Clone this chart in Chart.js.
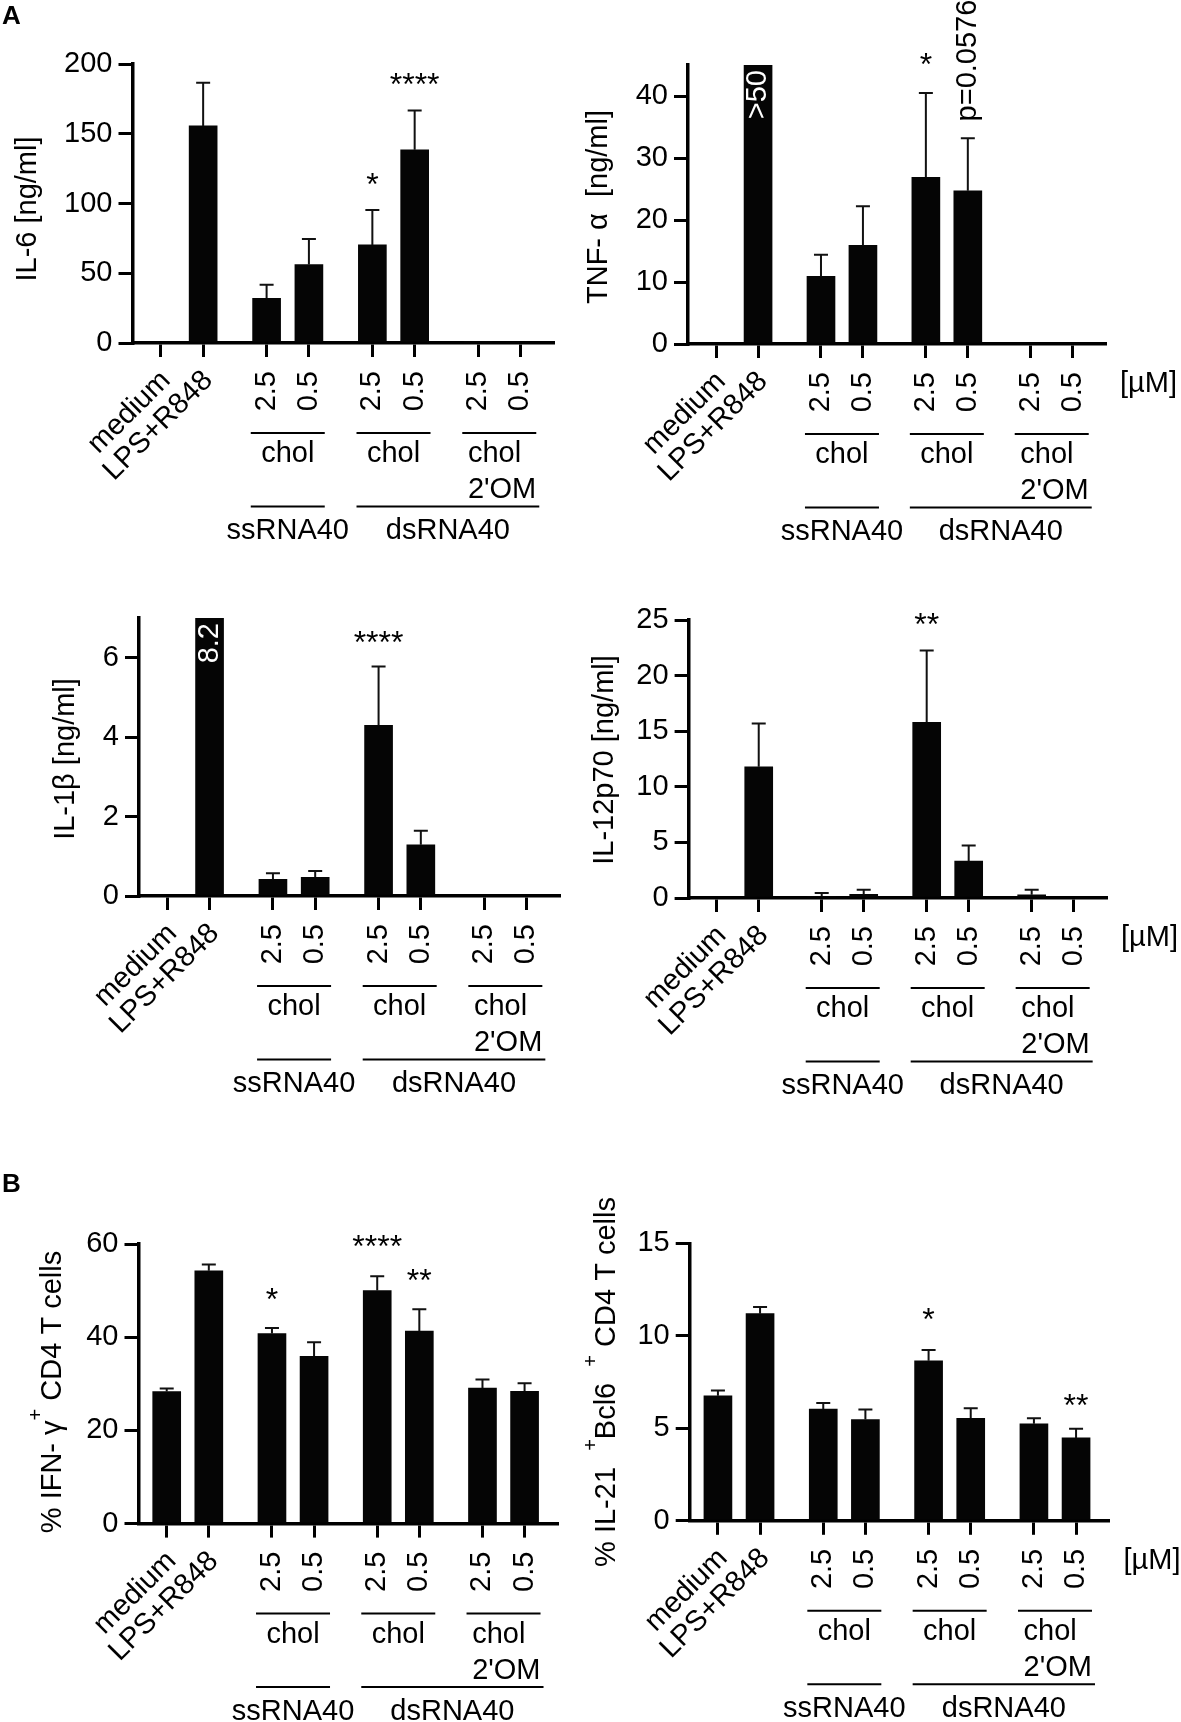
<!DOCTYPE html>
<html>
<head>
<meta charset="utf-8">
<script src="https://cdn.jsdelivr.net/npm/chart.js@4.4.1/dist/chart.umd.min.js"></script>
<style>
html, body { margin: 0; padding: 0; background: #fff; }
#page { position: relative; width: 1181px; height: 1722px; overflow: hidden; background: #fff; }
canvas { position: absolute; }
</style>
</head>
<body>
<div id="page">
  <canvas id="c1" width="590" height="560" style="left:0;top:0"></canvas>
  <canvas id="c2" width="606" height="560" style="left:575px;top:0"></canvas>
  <canvas id="c3" width="590" height="560" style="left:0;top:560px"></canvas>
  <canvas id="c4" width="606" height="560" style="left:575px;top:560px"></canvas>
  <canvas id="c5" width="590" height="560" style="left:0;top:1162px"></canvas>
  <canvas id="c6" width="606" height="560" style="left:575px;top:1162px"></canvas>
</div>
<script>
// categories along the x axis (same in every panel)
const categories = ['medium', 'LPS+R848', '2.5', '0.5', '2.5', '0.5', '2.5', '0.5'];
const positions = [0, 1, 2.5, 3.5, 5, 6, 7.5, 8.5];
const pairs = [[2, 3], [4, 5], [6, 7]];
const pairLabels = ['chol', 'chol', 'chol'];
const pairNotes = ['', '', "2'OM"];
const groupLabels = ['ssRNA40', 'dsRNA40'];

// A: cytokines [ng/ml], mean + SEM
const il6 = [0, 155.6, 32, 56.2, 70.3, 138.5, 0.8, 0];
const il6Err = [0, 31, 9.8, 18.4, 25.1, 28.2, 0, 0];
const il6Sig = ['', '', '', '', '*', '****', '', ''];
const il6Ticks = [0, 50, 100, 150, 200];

const tnf = [0, 50, 10.9, 15.9, 26.9, 24.7, 0, 0];
const tnfErr = [0, 0, 3.5, 6.3, 13.6, 8.5, 0, 0];
const tnfSig = ['', '', '', '', '*', '', '', ''];
const tnfTicks = [0, 10, 20, 30, 40];

const il1b = [0, 8.2, 0.42, 0.47, 4.3, 1.29, 0, 0];
const il1bErr = [0, 0, 0.15, 0.16, 1.48, 0.35, 0, 0];
const il1bSig = ['', '', '', '', '****', '', '', ''];
const il1bTicks = [0, 2, 4, 6];

const il12 = [0, 11.8, 0.16, 0.32, 15.8, 3.33, 0.29, 0];
const il12Err = [0, 3.9, 0.29, 0.42, 6.45, 1.38, 0.45, 0];
const il12Sig = ['', '', '', '', '**', '', '', ''];
const il12Ticks = [0, 5, 10, 15, 20, 25];

// B: % positive CD4 T cells
const ifng = [28.35, 54.25, 40.8, 35.9, 50.0, 41.3, 29.1, 28.4];
const ifngErr = [0.65, 1.35, 1.2, 3.0, 3.1, 4.7, 1.8, 1.7];
const ifngSig = ['', '', '*', '', '****', '**', '', ''];
const ifngTicks = [0, 20, 40, 60];

const il21 = [6.76, 11.2, 6.04, 5.48, 8.65, 5.54, 5.25, 4.48];
const il21Err = [0.29, 0.36, 0.33, 0.54, 0.58, 0.54, 0.29, 0.5];
const il21Sig = ['', '', '', '', '*', '', '', '**'];
const il21Ticks = [0, 5, 10, 15];

const FONT = '"Liberation Sans", Arial, Helvetica, sans-serif';
const FS = 29;
const font = (sz, w) => (w ? w + ' ' : '') + sz + 'px ' + FONT;

const panels = [
  { id: 'c1', values: il6, err: il6Err, sig: il6Sig, sigAt: { 4: 119, 5: 191 }, ticks: il6Ticks, max: 200,
    area: { l: 132.5, r: 553, t: 64, b: 343 }, title: [['IL-6 [ng/ml]']], titleAt: [28, 209], letter: 'A' },
  { id: 'c2', values: tnf, err: tnfErr, sig: tnfSig, sigAt: { 4: 46.3 }, ticks: tnfTicks, max: 45,
    area: { l: 113, r: 530, t: 65, b: 344 }, title: [['TNF- \u03b1  [ng/ml]']], titleAt: [24, 207], unit: true,
    inside: { i: 1, text: '>50' }, note: { i: 5, text: 'p=0.0576', at: 35.9 } },
  { id: 'c3', values: il1b, err: il1bErr, sig: il1bSig, sigAt: { 4: 6.57 }, ticks: il1bTicks, max: 7,
    area: { l: 139, r: 559, t: 58, b: 336 }, title: [['IL-1\u03b2 [ng/ml]']], titleAt: [66, 199],
    inside: { i: 1, text: '8.2' } },
  { id: 'c4', values: il12, err: il12Err, sig: il12Sig, sigAt: { 4: 25.27 }, ticks: il12Ticks, max: 25,
    area: { l: 113.6, r: 531, t: 60, b: 338 }, title: [['IL-12p70 [ng/ml]']], titleAt: [30, 200], unit: true },
  { id: 'c5', values: ifng, err: ifngErr, sig: ifngSig, sigAt: { 2: 49.6, 4: 61.1, 5: 53.7 }, ticks: ifngTicks, max: 60,
    area: { l: 138.5, r: 557, t: 82, b: 361.6 }, title: [['% IFN- \u03b3'], ['+', 1], [' CD4 T cells']],
    titleAt: [52.7, 230], letter: 'B' },
  { id: 'c6', values: il21, err: il21Err, sig: il21Sig, sigAt: { 4: 11.29, 7: 6.66 }, ticks: il21Ticks, max: 15,
    area: { l: 114.7, r: 533.5, t: 81.4, b: 358.8 }, title: [['% IL-21  '], ['+', 1], ['Bcl6  '], ['+', 1], [' CD4 T cells']],
    titleAt: [32, 220], unit: true }
];

function rotText(ctx, text, x, y, ang, align, base) {
  ctx.save();
  ctx.translate(x, y);
  ctx.rotate(ang);
  ctx.textAlign = align;
  ctx.textBaseline = base;
  ctx.fillText(text, 0, 0);
  ctx.restore();
}

function hline(ctx, x0, x1, y) {
  ctx.beginPath();
  ctx.moveTo(x0, y);
  ctx.lineTo(x1, y);
  ctx.stroke();
}

// rotated axis title with superscripts
function richTitle(ctx, parts, cx, cy) {
  ctx.save();
  ctx.translate(cx, cy);
  ctx.rotate(-Math.PI / 2);
  ctx.textBaseline = 'middle';
  ctx.textAlign = 'left';
  let total = 0;
  parts.forEach(p => { ctx.font = font(p[1] ? 20 : FS); total += ctx.measureText(p[0]).width; });
  let x = -total / 2;
  parts.forEach(p => {
    ctx.font = font(p[1] ? 20 : FS);
    ctx.fillText(p[0], x, p[1] ? -16 : 0);
    x += ctx.measureText(p[0]).width;
  });
  ctx.restore();
}

function makePanel(p) {
  const cv = document.getElementById(p.id);
  const W = cv.width, H = cv.height;

  const decor = {
    id: 'decor',
    afterDatasetsDraw(chart) {
      const ctx = chart.ctx, xs = chart.scales.x, ys = chart.scales.y;
      ctx.save();
      ctx.strokeStyle = '#111';
      ctx.lineWidth = 2;
      p.values.forEach((v, i) => {
        const e = p.err[i];
        if (!e) return;
        const x = xs.getPixelForValue(positions[i]);
        const y0 = ys.getPixelForValue(v), y1 = ys.getPixelForValue(v + e);
        ctx.beginPath();
        ctx.moveTo(x, y0); ctx.lineTo(x, y1);
        ctx.moveTo(x - 7, y1); ctx.lineTo(x + 7, y1);
        ctx.stroke();
      });
      ctx.restore();
    },
    afterDraw(chart) {
      const ctx = chart.ctx, ca = chart.chartArea, xs = chart.scales.x, ys = chart.scales.y;
      const ax = ca.bottom;
      const px = i => xs.getPixelForValue(positions[i]);
      ctx.save();
      ctx.fillStyle = '#000';
      ctx.strokeStyle = '#000';
      ctx.font = font(FS);

      categories.forEach((c, i) => {
        if (i < 2) rotText(ctx, c, px(i) + 5, ax + 33, -Math.PI / 4, 'right', 'middle');
        else rotText(ctx, c, px(i), ax + 28, -Math.PI / 2, 'right', 'middle');
      });
      if (p.unit) {
        ctx.textAlign = 'left';
        ctx.textBaseline = 'middle';
        ctx.fillText('[\u00b5M]', ca.right + 15, ax + 40);
      }

      ctx.lineWidth = 2;
      const spans = pairs.map(pr => {
        const c = (px(pr[0]) + px(pr[1])) / 2;
        return [c - 37, c + 37];
      });
      ctx.textBaseline = 'middle';
      spans.forEach((s, k) => {
        hline(ctx, s[0], s[1], ax + 90);
        if (pairNotes[k]) {
          const w = ctx.measureText(pairNotes[k]).width;
          ctx.textAlign = 'left';
          ctx.fillText(pairLabels[k], s[1] - w, ax + 111);
          ctx.fillText(pairNotes[k], s[1] - w, ax + 147);
        } else {
          ctx.textAlign = 'center';
          ctx.fillText(pairLabels[k], (s[0] + s[1]) / 2, ax + 111);
        }
      });
      const groups = [[spans[0][0], spans[0][1]], [spans[1][0], spans[2][1] + 3]];
      groups.forEach((s, k) => {
        hline(ctx, s[0], s[1], ax + 163.5);
        ctx.textAlign = 'center';
        ctx.fillText(groupLabels[k], (s[0] + s[1]) / 2, ax + 188);
      });

      // significance marks
      ctx.font = font(32);
      ctx.textAlign = 'center';
      ctx.textBaseline = 'alphabetic';
      p.sig.forEach((s, i) => {
        if (!s) return;
        ctx.fillText(s, px(i), ys.getPixelForValue(p.sigAt[i]) + 18);
      });

      ctx.font = font(FS);
      if (p.note) rotText(ctx, p.note.text, px(p.note.i), ys.getPixelForValue(p.note.at), -Math.PI / 2, 'left', 'middle');
      if (p.inside) {
        ctx.fillStyle = '#fff';
        rotText(ctx, p.inside.text, px(p.inside.i), ca.top + 5, -Math.PI / 2, 'right', 'middle');
        ctx.fillStyle = '#000';
      }

      richTitle(ctx, p.title, p.titleAt[0], p.titleAt[1]);

      if (p.letter) {
        ctx.font = font(26, 'bold');
        ctx.textAlign = 'left';
        ctx.textBaseline = 'alphabetic';
        ctx.fillText(p.letter, 2, p.letter === 'A' ? 24 : 30);
      }
      ctx.restore();
    }
  };

  new Chart(cv, {
    type: 'bar',
    data: {
      datasets: [{
        data: positions.map((x, i) => ({ x: x, y: p.values[i] })),
        backgroundColor: '#050505',
        borderWidth: 0,
        barThickness: 28
      }]
    },
    options: {
      responsive: false,
      animation: false,
      events: [],
      layout: { autoPadding: false, padding: { left: 0, top: p.area.t, right: W - p.area.r, bottom: 0 } },
      plugins: { legend: { display: false }, tooltip: { enabled: false } },
      scales: {
        x: {
          type: 'linear', min: -0.67, max: 9.27, offset: false,
          grid: { offset: false, drawOnChartArea: false, drawTicks: true, tickLength: 14, lineWidth: 3, color: '#000' },
          border: { display: true, width: 3.5, color: '#000' },
          ticks: { display: false },
          afterBuildTicks: s => { s.ticks = positions.map(v => ({ value: v })); },
          afterFit: s => { s.height = H - p.area.b; }
        },
        y: {
          type: 'linear', min: 0, max: p.max,
          grid: { drawOnChartArea: false, drawTicks: true, tickLength: 14, lineWidth: 3, color: '#000' },
          border: { display: true, width: 3.5, color: '#000' },
          ticks: { color: '#000', font: { family: FONT, size: FS }, padding: 6 },
          afterBuildTicks: s => { s.ticks = p.ticks.map(v => ({ value: v })); },
          afterFit: s => { s.width = p.area.l; }
        }
      }
    },
    plugins: [decor]
  });
}

panels.forEach(makePanel);
</script>
</body>
</html>
